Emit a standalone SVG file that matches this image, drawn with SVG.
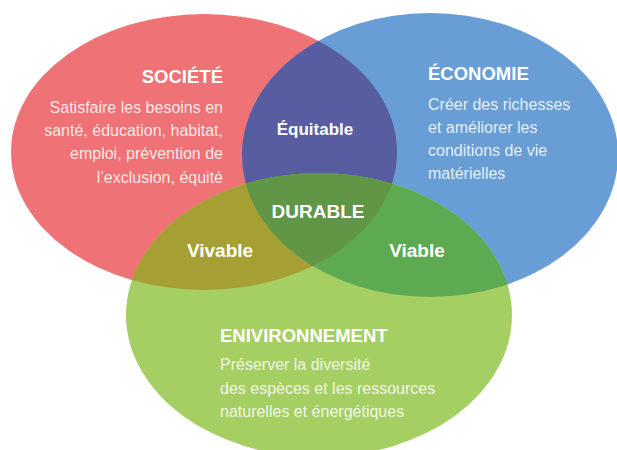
<svg xmlns="http://www.w3.org/2000/svg" width="617" height="450" viewBox="0 0 617 450">
<defs>
<clipPath id="cRed"><ellipse cx="204" cy="152" rx="193" ry="138"/></clipPath>
<clipPath id="cBlue"><ellipse cx="430" cy="155" rx="188" ry="142"/></clipPath>
<clipPath id="cGreen"><ellipse cx="319" cy="315" rx="193" ry="142"/></clipPath>
<style>
text{font-family:"Liberation Sans",Arial,sans-serif;fill:#fff}
.h{font-weight:bold;font-size:18.5px}
.b{font-size:16px;fill-opacity:0.85}
.i{font-weight:bold;font-size:19px;text-anchor:middle}
</style>
</defs>
<rect width="617" height="450" fill="#fff"/>
<g id="societe">
<ellipse cx="204" cy="152" rx="193" ry="138" fill="#EE7276"/>
</g>
<g id="economie">
<ellipse cx="430" cy="155" rx="188" ry="142" fill="#689ED5"/>
</g>
<g id="environnement">
<ellipse cx="319" cy="315" rx="193" ry="142" fill="#A6CF63"/>
</g>
<g id="equitable">
<ellipse cx="430" cy="155" rx="188" ry="142" fill="#585CA0" clip-path="url(#cRed)"/>
</g>
<g id="vivable">
<ellipse cx="319" cy="315" rx="193" ry="142" fill="#A6A034" clip-path="url(#cRed)"/>
</g>
<g id="viable">
<ellipse cx="319" cy="315" rx="193" ry="142" fill="#5EAA52" clip-path="url(#cBlue)"/>
</g>
<g id="durable">
<g clip-path="url(#cRed)"><ellipse cx="319" cy="315" rx="193" ry="142" fill="#609646" clip-path="url(#cBlue)"/></g>
</g>
<g id="connectors"></g>
<g id="labels">
<text class="h" x="223" y="83" text-anchor="end">SOCIÉTÉ</text>
<text class="b" x="223" y="113" text-anchor="end">Satisfaire les besoins en</text>
<text class="b" x="223" y="136" text-anchor="end">santé, éducation, habitat,</text>
<text class="b" x="223" y="159" text-anchor="end">emploi, prévention de</text>
<text class="b" x="223" y="183" text-anchor="end">l’exclusion, équité</text>
<text class="h" x="428" y="80">ÉCONOMIE</text>
<text class="b" x="428" y="110">Créer des richesses</text>
<text class="b" x="428" y="133">et améliorer les</text>
<text class="b" x="428" y="156">conditions de vie</text>
<text class="b" x="428" y="179">matérielles</text>
<text class="h" x="220" y="342">ENIVIRONNEMENT</text>
<text class="b" x="220" y="370">Préserver la diversité</text>
<text class="b" x="220" y="394">des espèces et les ressources</text>
<text class="b" x="220" y="417">naturelles et énergétiques</text>
<text class="i" x="315" y="135" style="font-size:17px">Équitable</text>
<text class="i" x="318" y="218">DURABLE</text>
<text class="i" x="220" y="257">Vivable</text>
<text class="i" x="417" y="257">Viable</text>
</g>
</svg>
